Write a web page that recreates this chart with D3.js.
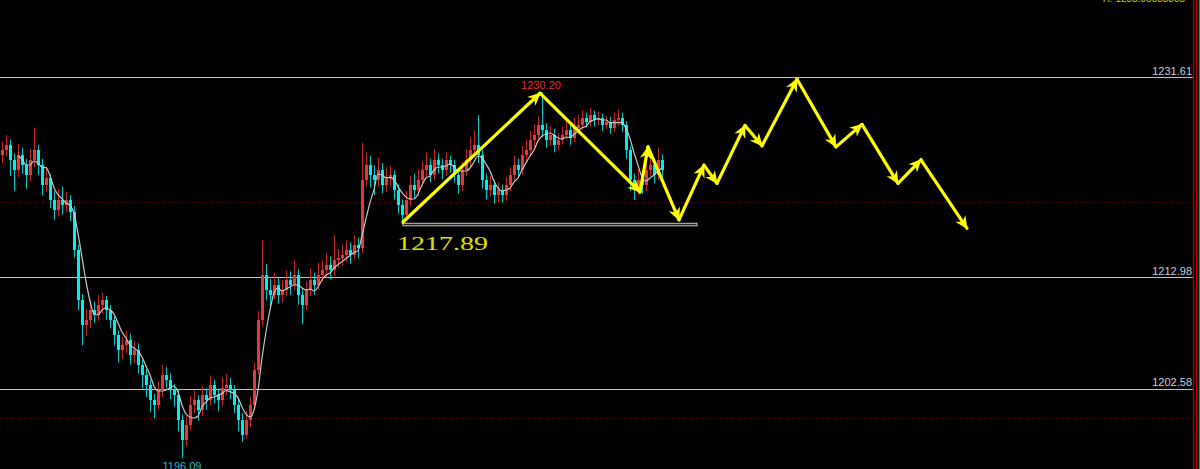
<!DOCTYPE html>
<html><head><meta charset="utf-8">
<script src="https://cdn.jsdelivr.net/npm/d3@7/dist/d3.min.js"></script>
<style>html,body{margin:0;padding:0;background:#000;overflow:hidden}svg{display:block}</style>
</head><body><svg id="c" width="1200" height="469"></svg>
<script>
// ---- data ----
const opens = [1224.30,1224.81,1225.28,1223.88,1222.95,1224.34,1223.41,1222.48,1223.88,1224.81,
1223.41,1221.55,1222.20,1220.15,1219.22,1220.15,1219.69,1220.15,1219.03,1215.50,
1210.84,1208.51,1208.97,1209.91,1209.44,1210.37,1210.84,1209.91,1208.97,1207.58,
1206.18,1206.65,1207.11,1205.71,1206.18,1204.78,1203.85,1202.92,1201.52,1201.06,
1202.45,1203.85,1203.39,1202.45,1201.99,1199.66,1197.80,1199.19,1201.06,1201.52,
1200.59,1201.99,1201.52,1202.92,1201.99,1201.52,1202.64,1202.92,1202.45,1201.06,
1199.66,1198.26,1199.66,1201.06,1204.32,1208.97,1213.17,1211.77,1211.30,1212.23,
1211.30,1211.77,1212.70,1212.23,1213.17,1211.30,1210.37,1211.77,1212.70,1212.23,
1213.17,1213.63,1214.10,1213.63,1214.56,1214.75,1215.03,1215.50,1215.03,1215.96,
1215.68,1222.02,1223.41,1222.48,1222.02,1222.95,1221.55,1222.20,1222.48,1221.08,
1219.69,1218.75,1220.15,1221.55,1221.08,1222.02,1222.95,1223.41,1222.48,1223.88,
1223.41,1222.95,1223.88,1223.41,1222.48,1221.55,1222.95,1223.88,1224.81,1225.28,
1224.34,1222.02,1221.08,1221.55,1220.62,1221.08,1220.62,1221.55,1222.48,1223.41,
1222.95,1224.34,1224.81,1225.74,1226.21,1227.14,1226.67,1225.74,1226.21,1225.28,
1225.74,1226.21,1226.67,1225.93,1226.86,1227.14,1227.79,1227.42,1228.07,1227.60,
1227.79,1227.14,1227.42,1226.86,1227.60,1227.79,1227.14,1224.81,1222.02,1221.08,
1222.02,1221.55,1222.95,1223.41,1222.48,1223.88];
const highs = [1225.6,1226.2,1225.8,1224.5,1225.4,1225.0,1224.0,1224.9,1226.9,1225.3,
1224.0,1223.0,1222.6,1221.0,1221.2,1221.4,1220.9,1220.6,1219.6,1216.0,
1211.4,1210.0,1210.8,1210.7,1211.3,1211.5,1211.2,1210.4,1209.3,1208.0,
1207.4,1208.0,1207.7,1207.0,1206.8,1205.3,1204.4,1203.4,1202.1,1203.3,
1204.8,1204.6,1204.0,1203.0,1202.5,1200.2,1200.0,1201.9,1202.4,1202.0,
1202.8,1202.6,1203.8,1203.4,1202.6,1203.6,1203.9,1203.6,1202.9,1201.6,
1200.3,1200.5,1201.8,1205.0,1209.8,1216.4,1214.2,1212.8,1213.4,1212.9,
1212.7,1213.6,1213.5,1214.6,1213.7,1211.9,1212.6,1213.8,1213.4,1214.3,
1214.6,1215.2,1214.9,1216.9,1215.6,1216.0,1216.4,1216.2,1216.9,1216.6,
1225.46,1224.6,1224.3,1223.4,1224.1,1223.6,1223.2,1223.3,1222.9,1221.6,
1220.2,1221.0,1222.4,1222.6,1223.0,1223.8,1224.6,1224.0,1224.9,1224.5,
1224.0,1224.6,1224.3,1223.9,1223.0,1223.7,1224.9,1226.0,1226.6,1228.07,
1224.8,1222.6,1222.4,1222.0,1221.8,1221.6,1222.3,1223.2,1224.3,1224.0,
1225.2,1225.8,1226.6,1227.2,1228.0,1230.20,1227.3,1227.0,1226.8,1226.4,
1227.0,1227.5,1227.2,1227.8,1228.1,1228.5,1228.3,1228.72,1228.5,1228.4,
1228.2,1228.0,1227.9,1228.3,1228.6,1228.3,1227.5,1225.2,1222.6,1223.0,
1222.9,1223.8,1224.6,1224.0,1225.0,1224.4];
const lows = [1223.6,1224.2,1222.4,1221.0,1222.3,1222.6,1221.2,1221.9,1223.2,1222.5,
1220.6,1220.9,1219.4,1218.3,1218.6,1218.8,1219.0,1218.2,1214.8,1209.9,
1206.6,1207.5,1208.2,1208.7,1208.9,1209.6,1209.0,1208.2,1206.6,1205.0,
1205.3,1205.9,1204.8,1204.9,1204.0,1202.6,1201.8,1200.4,1199.8,1200.6,
1201.8,1202.6,1201.6,1200.9,1198.6,1196.09,1197.2,1198.7,1200.3,1199.6,
1200.0,1200.6,1201.0,1201.2,1200.5,1201.0,1202.0,1201.6,1200.3,1198.6,
1197.6,1197.9,1199.0,1200.6,1203.9,1208.4,1210.8,1210.2,1210.9,1210.5,
1210.6,1211.2,1211.3,1211.8,1210.4,1208.6,1209.9,1211.2,1211.3,1211.8,
1212.6,1213.0,1212.8,1213.1,1213.9,1214.0,1214.4,1214.2,1214.6,1214.7,
1215.2,1221.4,1221.3,1220.6,1221.4,1220.8,1220.9,1221.4,1220.2,1218.9,
1217.89,1218.4,1219.6,1220.3,1220.5,1221.4,1222.3,1221.8,1222.0,1222.6,
1222.1,1222.4,1222.7,1221.8,1220.7,1221.0,1222.4,1223.3,1224.1,1223.6,
1221.2,1220.2,1220.5,1219.8,1220.0,1219.9,1220.1,1221.0,1222.0,1222.2,
1222.5,1223.8,1224.2,1225.1,1225.6,1226.0,1225.0,1225.2,1224.6,1224.8,
1225.3,1225.8,1225.3,1225.5,1226.3,1226.7,1226.9,1227.0,1227.0,1227.1,
1226.6,1226.8,1226.3,1226.5,1227.1,1226.5,1224.0,1221.0,1220.15,1220.6,
1220.7,1221.0,1222.4,1221.7,1222.0,1222.3];
const closes = [1224.81,1225.28,1223.88,1222.95,1224.34,1223.41,1222.48,1223.88,1224.81,1223.41,
1221.55,1222.20,1220.15,1219.22,1220.15,1219.69,1220.15,1219.03,1215.50,1210.84,
1208.51,1208.97,1209.91,1209.44,1210.37,1210.84,1209.91,1208.97,1207.58,1206.18,
1206.65,1207.11,1205.71,1206.18,1204.78,1203.85,1202.92,1201.52,1201.06,1202.45,
1203.85,1203.39,1202.45,1201.99,1199.66,1197.80,1199.19,1201.06,1201.52,1200.59,
1201.99,1201.52,1202.92,1201.99,1201.52,1202.64,1202.92,1202.45,1201.06,1199.66,
1198.26,1199.66,1201.06,1204.32,1208.97,1213.17,1211.77,1211.30,1212.23,1211.30,
1211.77,1212.70,1212.23,1213.17,1211.30,1210.37,1211.77,1212.70,1212.23,1213.17,
1213.63,1214.10,1213.63,1214.56,1214.75,1215.03,1215.50,1215.03,1215.96,1215.68,
1222.02,1223.41,1222.48,1222.02,1222.95,1221.55,1222.20,1222.48,1221.08,1219.69,
1218.75,1220.15,1221.55,1221.08,1222.02,1222.95,1223.41,1222.48,1223.88,1223.41,
1222.95,1223.88,1223.41,1222.48,1221.55,1222.95,1223.88,1224.81,1225.28,1224.34,
1222.02,1221.08,1221.55,1220.62,1221.08,1220.62,1221.55,1222.48,1223.41,1222.95,
1224.34,1224.81,1225.74,1226.21,1227.14,1226.67,1225.74,1226.21,1225.28,1225.74,
1226.21,1226.67,1225.93,1226.86,1227.14,1227.79,1227.42,1228.07,1227.60,1227.79,
1227.14,1227.42,1226.86,1227.60,1227.79,1227.14,1224.81,1222.02,1221.08,1222.02,
1221.55,1222.95,1223.41,1222.48,1223.88,1222.95];
const priceLevels = [1231.61, 1212.98, 1202.58];
const dottedLevels = [1219.99, 1199.84];
const forecastIdx   = [100.25,134.5,159.5,161.5,169.25,175.5,178.75,185.75,190,198.75,208.5,215,224,229.75,241.25];
const forecastPrice = [1218.1,1230.1,1220.9,1225.1,1218.3,1223.4,1221.7,1227.1,1225.2,1231.4,1225.1,1227.2,1221.7,1223.9,1217.5];
const supportLevel = 1217.89, supportFrom = 100.25, supportTo = 173.75;
const highMark = {idx: 135, price: 1230.20, label: "1230.20"};
const lowMark = {idx: 45, price: 1196.09, label: "1196.09"};
const maPeriod = 5;

// ---- scales ----
const svg = d3.select("#c");
const x = d3.scaleLinear().domain([0, 165]).range([2, 662]);
const y = d3.scaleLinear().domain([1212.98, 1231.61]).range([277, 77]);
const plotRight = 1193;

// dotted dark-red levels
svg.selectAll("line.dot").data(dottedLevels).join("line")
  .attr("x1", 0).attr("x2", plotRight).attr("y1", d => Math.round(y(d)) + 0.5).attr("y2", d => Math.round(y(d)) + 0.5)
  .attr("stroke", "#6a0000").attr("stroke-width", 1).attr("stroke-dasharray", "1,2");

// grey price levels with labels
svg.selectAll("line.lvl").data(priceLevels).join("line")
  .attr("x1", 0).attr("x2", plotRight).attr("y1", d => Math.round(y(d)) + 0.5).attr("y2", d => Math.round(y(d)) + 0.5)
  .attr("stroke", "#c4c4c4").attr("stroke-width", 1.2);
svg.selectAll("text.lvl").data(priceLevels).join("text")
  .attr("x", 1192).attr("y", d => y(d) - 2.5).attr("text-anchor", "end")
  .attr("font-family", "Liberation Sans, Arial, sans-serif").attr("font-size", 11)
  .attr("fill", "#c8cfdc").text(d => d.toFixed(2));

// candles
const idx = d3.range(closes.length);
const g = svg.append("g");
const col = i => closes[i] >= opens[i] ? "#e03a3a" : "#00f0f0";
g.selectAll("line.wick").data(idx).join("line")
  .attr("x1", i => Math.round(x(i)) + 0.5).attr("x2", i => Math.round(x(i)) + 0.5)
  .attr("y1", i => y(highs[i])).attr("y2", i => y(lows[i]))
  .attr("stroke", i => closes[i] >= opens[i] ? "#c02828" : "#00c8c8").attr("stroke-width", 1);
g.selectAll("rect.body").data(idx).join("rect")
  .attr("x", i => Math.round(x(i)) - 1).attr("width", 3)
  .attr("y", i => y(Math.max(opens[i], closes[i])))
  .attr("height", i => Math.max(1, Math.abs(y(opens[i]) - y(closes[i]))))
  .attr("fill", col);

// moving average
const ma = idx.filter(i => i >= maPeriod - 1).map(i => [i, d3.mean(closes.slice(i - maPeriod + 1, i + 1))]);
svg.append("path").datum(ma)
  .attr("d", d3.line().x(d => x(d[0])).y(d => y(d[1])).curve(d3.curveMonotoneX))
  .attr("fill", "none").attr("stroke", "#c8c8c8").attr("stroke-width", 1.2);

// support box
svg.append("rect")
  .attr("x", x(supportFrom)).attr("y", y(supportLevel) - 1)
  .attr("width", x(supportTo) - x(supportFrom)).attr("height", 2.5)
  .attr("fill", "#202020").attr("stroke", "#c8c8c8").attr("stroke-width", 1);

// forecast arrows
const defs = svg.append("defs");
defs.append("marker").attr("id", "ah").attr("viewBox", "-13 -7 15 14")
  .attr("refX", 0).attr("refY", 0).attr("markerWidth", 15).attr("markerHeight", 14)
  .attr("markerUnits", "userSpaceOnUse").attr("orient", "auto")
  .append("path").attr("d", "M1,0 L-12,-6 L-8,0 L-12,6 Z").attr("fill", "#ffff00");
const pts = forecastIdx.map((d, i) => [x(d), y(forecastPrice[i])]);
svg.selectAll("line.arr").data(d3.range(pts.length - 1)).join("line")
  .attr("x1", i => pts[i][0]).attr("y1", i => pts[i][1])
  .attr("x2", i => pts[i + 1][0]).attr("y2", i => pts[i + 1][1])
  .attr("stroke", "#ffff00").attr("stroke-width", 3.2).attr("stroke-linecap", "round")
  .attr("marker-end", "url(#ah)");

// annotations
svg.append("text").attr("x", 397).attr("y", 250).attr("textLength", 91).attr("lengthAdjust", "spacingAndGlyphs")
  .attr("font-family", "Liberation Serif, serif").attr("font-size", 19).attr("fill", "#e0e000")
  .text(supportLevel.toFixed(2));
svg.append("text").attr("x", x(highMark.idx) - 1).attr("y", y(highMark.price) - 3).attr("text-anchor", "middle")
  .attr("font-family", "Liberation Sans, Arial, sans-serif").attr("font-size", 11).attr("fill", "#e03030")
  .text(highMark.label);
svg.append("text").attr("x", x(lowMark.idx)).attr("y", y(lowMark.price) + 12).attr("text-anchor", "middle")
  .attr("font-family", "Liberation Sans, Arial, sans-serif").attr("font-size", 11).attr("fill", "#2ab8c0")
  .text(lowMark.label);

// top-right clipped caption
svg.append("text").attr("x", 1185).attr("y", 2).attr("text-anchor", "end")
  .attr("font-family", "Liberation Sans, Arial, sans-serif").attr("font-size", 10).attr("fill", "#c8c800")
  .text("H: 1233.88888888");

// right border
svg.append("line").attr("x1", 1193.5).attr("x2", 1193.5).attr("y1", 0).attr("y2", 469).attr("stroke", "#a00000").attr("stroke-width", 1.5);
svg.append("line").attr("x1", 1196.5).attr("x2", 1196.5).attr("y1", 0).attr("y2", 469).attr("stroke", "#a00000").attr("stroke-width", 1);
svg.append("line").attr("x1", 1199.5).attr("x2", 1199.5).attr("y1", 0).attr("y2", 469).attr("stroke", "#707070").attr("stroke-width", 1);
</script></body></html>
